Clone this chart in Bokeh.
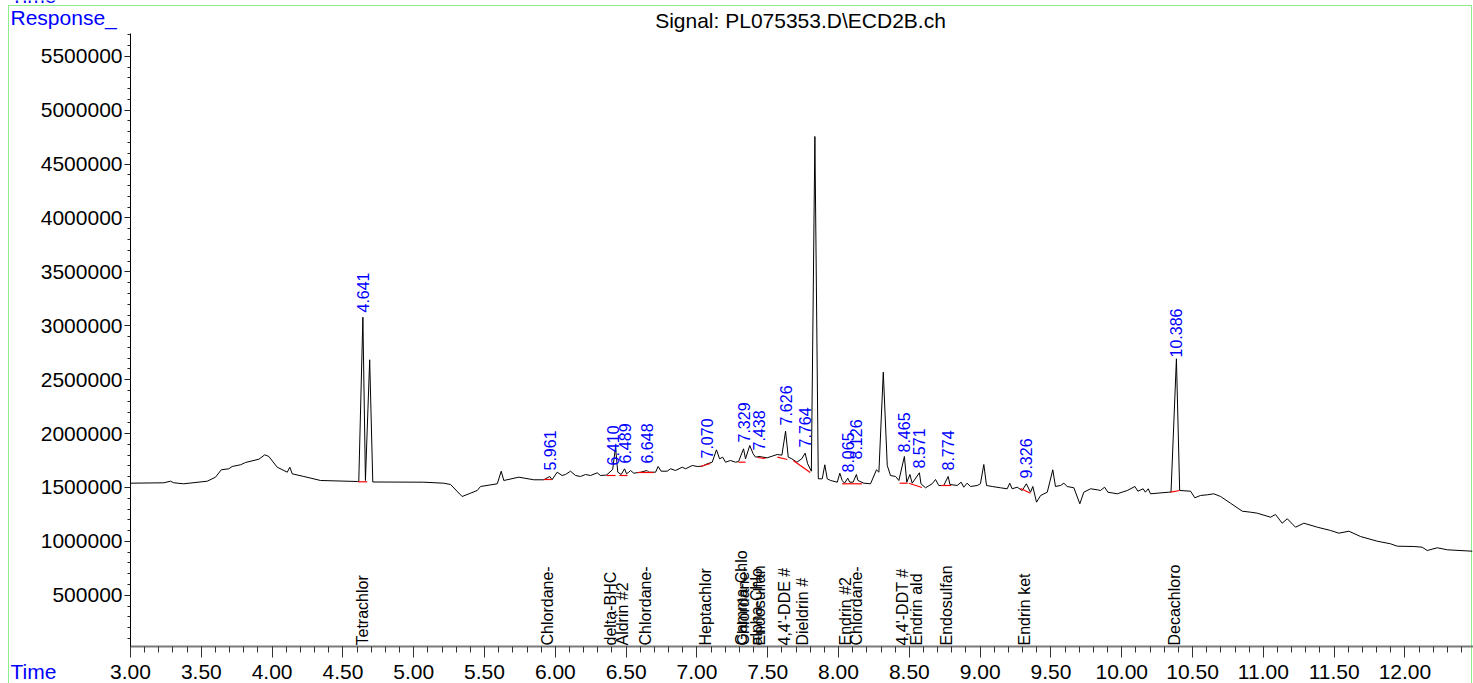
import math
from bokeh.plotting import figure
from bokeh.models import (Label, SingleIntervalTicker, NumeralTickFormatter,
                          BasicTickFormatter, Range1d, ColumnDataSource)
from bokeh.core.properties import value
from bokeh.embed import file_html
from bokeh.resources import INLINE

# ---------------- chromatogram trace (time in min, response) ----------------
time_min = [3.000, 3.235, 3.282, 3.306, 3.376, 3.542, 3.600, 3.641, 3.694, 3.718,
            3.777, 3.812, 3.907, 3.948, 3.977, 4.036, 4.107, 4.125, 4.142, 4.224,
            4.342, 4.601, 4.612, 4.641, 4.659, 4.689, 4.711, 5.071, 5.212, 5.260,
            5.342, 5.401, 5.448, 5.472, 5.590, 5.618, 5.636, 5.742, 5.848, 5.918,
            5.961, 5.977, 6.013, 6.048, 6.072, 6.107, 6.143, 6.178, 6.213, 6.249,
            6.296, 6.319, 6.362, 6.405, 6.425, 6.441, 6.465, 6.489, 6.503, 6.519,
            6.531, 6.554, 6.602, 6.648, 6.660, 6.708, 6.726, 6.747, 6.790, 6.814,
            6.849, 6.896, 6.920, 6.967, 7.002, 7.037, 7.070, 7.108, 7.138, 7.160,
            7.182, 7.202, 7.237, 7.273, 7.294, 7.329, 7.343, 7.373, 7.397, 7.414,
            7.438, 7.496, 7.567, 7.600, 7.626, 7.645, 7.670, 7.706, 7.740, 7.764,
            7.782, 7.808, 7.833, 7.857, 7.885, 7.903, 7.920, 7.944, 7.991, 8.009,
            8.026, 8.042, 8.065, 8.079, 8.103, 8.126, 8.137, 8.179, 8.226, 8.268,
            8.285, 8.316, 8.344, 8.367, 8.403, 8.426, 8.465, 8.482, 8.504, 8.520,
            8.571, 8.582, 8.614, 8.661, 8.685, 8.708, 8.743, 8.774, 8.787, 8.838,
            8.866, 8.884, 8.908, 8.932, 8.979, 9.002, 9.026, 9.045, 9.085, 9.144,
            9.191, 9.209, 9.226, 9.262, 9.297, 9.326, 9.356, 9.372, 9.398, 9.427,
            9.474, 9.513, 9.532, 9.568, 9.591, 9.615, 9.662, 9.704, 9.732, 9.780,
            9.827, 9.850, 9.879, 9.902, 9.968, 10.039, 10.093, 10.114, 10.151, 10.167,
            10.187, 10.203, 10.332, 10.348, 10.386, 10.409, 10.486, 10.516, 10.556, 10.604,
            10.650, 10.698, 10.768, 10.851, 10.910, 10.957, 11.051, 11.086, 11.133, 11.169,
            11.227, 11.286, 11.381, 11.475, 11.533, 11.604, 11.686, 11.804, 11.898, 11.945,
            12.063, 12.122, 12.157, 12.228, 12.299, 12.475]
response = [1540000, 1543500, 1558400, 1543500, 1534300, 1558400, 1595500, 1664100, 1673400, 1694700,
            1710500, 1731800, 1762400, 1803300, 1787500, 1688200, 1641900, 1688200, 1627000, 1602000,
            1564900, 1555600, 1555600, 3079600, 1564900, 2684500, 1551000, 1549100, 1539800, 1527800,
            1416400, 1447100, 1472100, 1509200, 1534300, 1651100, 1564900, 1595500, 1571400, 1571400,
            1602000, 1571400, 1641900, 1611200, 1620500, 1651100, 1611200, 1602000, 1620500, 1611200,
            1636300, 1611200, 1615900, 1667000, 1873800, 1641900, 1620500, 1673400, 1627000, 1641900,
            1657600, 1632600, 1641900, 1657600, 1641900, 1641900, 1694700, 1651100, 1651100, 1673400,
            1657600, 1688200, 1673400, 1704000, 1694700, 1697500, 1718000, 1734600, 1849600, 1766200,
            1781000, 1734600, 1750400, 1734600, 1741100, 1858900, 1766200, 1889500, 1812500, 1781000,
            1787500, 1775400, 1806000, 1800000, 2022200, 1781000, 1766200, 1734600, 1766200, 1818100,
            1719800, 1651100, 4756000, 1580600, 1580600, 1710500, 1580600, 1564900, 1549100, 1632600,
            1564900, 1539800, 1586200, 1549100, 1549100, 1620500, 1564900, 1539800, 1534300, 1664100,
            1641900, 2569500, 1704000, 1611200, 1602000, 1564900, 1787500, 1549100, 1620500, 1539800,
            1636300, 1534300, 1497200, 1534300, 1574100, 1518500, 1518500, 1602000, 1527800, 1518500,
            1549100, 1502700, 1539800, 1509200, 1518500, 1534300, 1713300, 1518500, 1509200, 1497200,
            1487900, 1539800, 1487900, 1502700, 1472100, 1534300, 1456300, 1509200, 1363600, 1425700,
            1456300, 1664100, 1509200, 1518500, 1539800, 1509200, 1497200, 1348700, 1456300, 1487900,
            1478600, 1472100, 1502700, 1456300, 1441500, 1472100, 1509200, 1465600, 1487900, 1456300,
            1487900, 1441500, 1456300, 1458000, 2694000, 1472100, 1465600, 1404400, 1425700, 1432200,
            1441500, 1416400, 1354300, 1280100, 1270800, 1261500, 1224400, 1249500, 1168800, 1209600,
            1131700, 1168800, 1131700, 1101100, 1076000, 1094600, 1045400, 1001800, 977700, 955400,
            952600, 946200, 915500, 940600, 922000, 909000]

# ---------------- integrated peaks (retention-time labels) ----------------
rt_text = ["4.641", "5.961", "6.410", "6.489", "6.648", "7.070", "7.329", "7.438",
           "7.626", "7.764", "8.065", "8.126", "8.465", "8.571", "8.774", "9.326", "10.386"]
rt_time = [4.641, 5.961, 6.410, 6.489, 6.648, 7.070, 7.329, 7.438,
           7.626, 7.764, 8.065, 8.126, 8.465, 8.571, 8.774, 9.326, 10.386]
rt_label_resp = [3123000, 1657700, 1704000, 1722600, 1722600, 1769000, 1917500, 1843300,
                 2075200, 1871300, 1639100, 1759700, 1824600, 1676200, 1657700, 1583500, 2706000]

# integration baselines (red)
bl_t0 = [4.607, 5.917, 6.362, 6.453, 6.581, 7.025, 7.294, 7.428, 7.568, 7.680,
         8.025, 8.431, 8.497, 8.723, 9.285, 10.345]
bl_r0 = [1552800, 1574100, 1611200, 1611200, 1639100, 1694700, 1734600, 1778200, 1781000, 1750400,
         1534300, 1539800, 1539800, 1518500, 1490700, 1456300]
bl_t1 = [4.671, 5.973, 6.425, 6.510, 6.694, 7.095, 7.343, 7.483, 7.638, 7.800,
         8.167, 8.488, 8.589, 8.795, 9.356, 10.409]
bl_r1 = [1552800, 1574100, 1611200, 1611200, 1639100, 1722600, 1734600, 1768900, 1759700, 1639100,
         1534300, 1539800, 1499900, 1518500, 1447100, 1472100]

# ---------------- compound names at expected retention times ----------------
cmp_name = ["Tetrachlor", "Chlordane-", "delta-BHC", "Aldrin #2", "Chlordane-", "Heptachlor",
            "Gamma-Chlo", "Chlordane-", "alpha-Chlo", "Endosulfan", "4,4'-DDE #", "Dieldrin #",
            "Endrin #2", "Chlordane-", "4,4'-DDT #", "Endrin ald", "Endosulfan", "Endrin ket",
            "Decachloro"]
cmp_time = [4.638, 5.948, 6.390, 6.472, 6.637, 7.064,
            7.312, 7.330, 7.422, 7.440, 7.615, 7.746,
            8.050, 8.124, 8.452, 8.554, 8.763, 9.314,
            10.373]

TITLE = "Signal: PL075353.D\\ECD2B.ch"
Y_NAME = "Response_"
X_NAME = "Time"

FONT = "Liberation Sans"
BLUE = "#0000ff"
GREEN = "#8ced8c"

# axis extents (where the axis lines run)
X_AX = (3.0, 12.484)
Y_AX = (25000, 5711000)
# whole-canvas view so the captions outside the axes stay visible
X_VIEW = (2.0819, 12.484)
Y_VIEW = (-318200, 6017300)

p = figure(width=1473, height=683, output_backend="svg", toolbar_location=None,
           x_range=Range1d(*X_VIEW), y_range=Range1d(*Y_VIEW), min_border=0)
p.title.visible = False
p.outline_line_color = None
p.xgrid.visible = False
p.ygrid.visible = False
p.background_fill_color = None
p.border_fill_color = None
p.styles = {"background": (
    f"linear-gradient({GREEN},{GREEN}) 8px 5px / 1px 678px no-repeat, "
    f"linear-gradient({GREEN},{GREEN}) 8px 5px / 1464px 1px no-repeat, "
    f"linear-gradient({GREEN},{GREEN}) 1471px 5px / 1px 678px no-repeat, #ffffff")}

# ---- axes (fixed inside the view) ----
xa = p.xaxis[0]
xa.fixed_location = Y_AX[0]
xa.bounds = X_AX
xa.ticker = SingleIntervalTicker(interval=0.5, num_minor_ticks=5)
xa.formatter = NumeralTickFormatter(format="0.00")
xa.axis_line_color = "#7a7a7a"
xa.axis_line_width = 2
xa.major_tick_line_color = "#333333"
xa.minor_tick_line_color = "#333333"
xa.major_tick_in = 0
xa.major_tick_out = 11
xa.minor_tick_in = 0
xa.minor_tick_out = 6
xa.major_label_standoff = 7
xa.major_label_text_font = FONT
xa.major_label_text_font_size = "21px"
xa.major_label_text_color = "black"

ya = p.yaxis[0]
ya.fixed_location = X_AX[0]
ya.bounds = Y_AX
ya.ticker = SingleIntervalTicker(interval=500000, num_minor_ticks=5)
ya.formatter = BasicTickFormatter(use_scientific=False)
ya.axis_line_color = "black"
ya.axis_line_width = 1
ya.major_tick_line_color = "#222222"
ya.minor_tick_line_color = "#222222"
ya.major_tick_in = 0
ya.major_tick_out = 6
ya.minor_tick_in = 0
ya.minor_tick_out = 3
ya.major_label_standoff = 2
ya.major_label_text_font = FONT
ya.major_label_text_font_size = "21px"
ya.major_label_text_color = "black"

# ---- data ----
p.line(time_min, response, line_color="black", line_width=1)
p.segment(x0=bl_t0, y0=bl_r0, x1=bl_t1, y1=bl_r1, line_color="#ff0000", line_width=1.2)

rt_src = ColumnDataSource(dict(t=rt_time, r=rt_label_resp, txt=rt_text))
p.text(x="t", y="r", text="txt", source=rt_src, angle=math.pi / 2,
       text_align="left", text_baseline="middle", text_color=BLUE,
       text_font=value(FONT), text_font_size=value("16px"))

cmp_src = ColumnDataSource(dict(t=cmp_time, r=[Y_AX[0]] * len(cmp_time), txt=cmp_name))
p.text(x="t", y="r", text="txt", source=cmp_src, angle=math.pi / 2,
       text_align="left", text_baseline="middle", text_color="black",
       text_font=value(FONT), text_font_size=value("16px"), y_offset=-1)

# ---- captions (canvas pixel units) ----
def caption(x, y, text, color, align="left"):
    p.add_layout(Label(x=x, y=y, x_units="canvas", y_units="canvas", text=text,
                       text_align=align, text_baseline="alphabetic", text_font=FONT,
                       text_font_size="21px", text_color=color))

caption(800, 19.5, TITLE, "black", align="center")
caption(10, 17, Y_NAME, BLUE)
caption(10, 671, X_NAME, BLUE)
caption(10, -5.5, X_NAME, BLUE)

open("out.html", "w").write(file_html(p, INLINE))
